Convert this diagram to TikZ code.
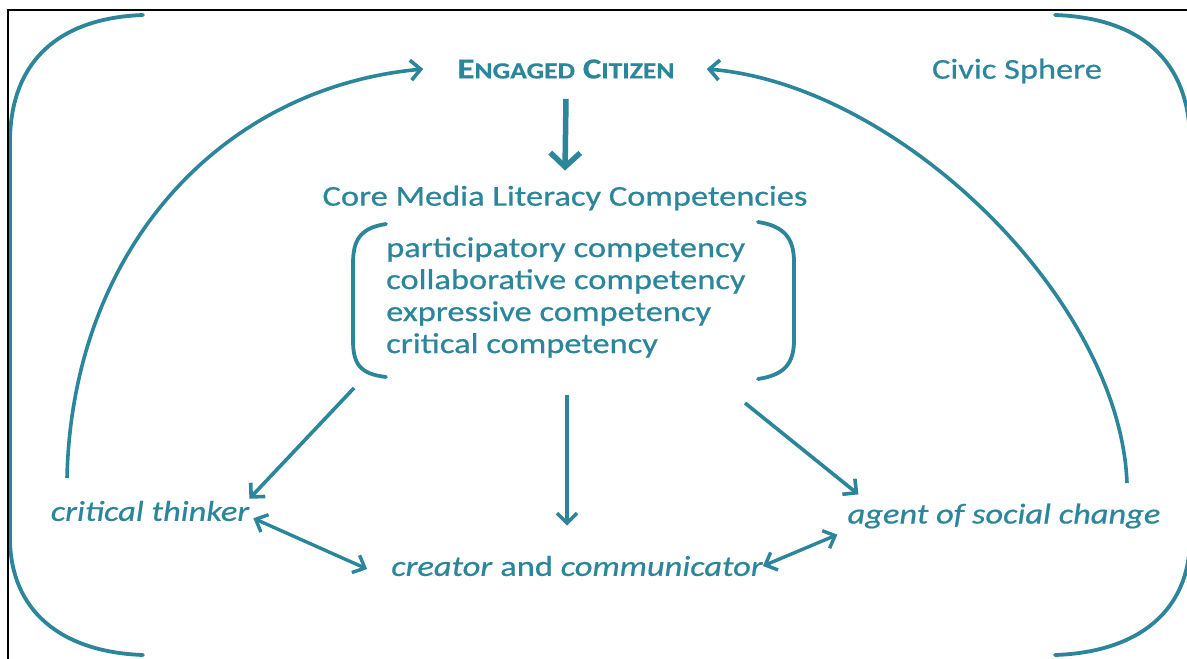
\documentclass[tikz,border=0pt]{standalone}
\usepackage{fontspec}
\setmainfont{Carlito}[FakeStretch=1.2, FakeBold=0.6]
\usetikzlibrary{arrows.meta}
\definecolor{civic}{RGB}{44,134,155}
\tikzset{
  lbl/.style={text=civic, inner sep=2pt},
  arr/.style={civic, line width=3.6pt, -{Straight Barb[length=10pt,width=20pt]}},
  dblarr/.style={civic, line width=3.4pt, {Straight Barb[length=10pt,width=19pt]}-{Straight Barb[length=10pt,width=19pt]}},
  curve/.style={civic, line width=3.8pt, line cap=round},
}
\newcommand{\hdfont}{\fontsize{28.7}{32}\selectfont}
\newcommand{\rolefont}{\fontsize{28.7}{32}\selectfont\itshape}
\newcommand{\smc}[1]{{\fontsize{23}{24}\selectfont #1}}
\begin{document}
\begin{tikzpicture}[x=1pt, y=-1pt]
    \useasboundingbox (0,0) rectangle (1187,659);
    \clip (0,0) rectangle (1187,659);
    \fill[white] (0,0) rectangle (1187,659);

    % outer civic sphere brackets
    \draw[curve] (143,15) .. controls (60,18) and (11,60) .. (10,140) -- (10,540) .. controls (11,610) and (60,652) .. (143,655);
    \draw[curve] (1055,15) .. controls (1140,18) and (1189,60) .. (1190,140) -- (1190,540) .. controls (1189,610) and (1140,652) .. (1055,655);
    \draw[black, line width=2pt] (8,659) -- (8,10) -- (1187,10);

    \node[lbl, font=\bfseries\fontsize{29}{30}\selectfont] (engaged) at (566,69) {E\smc{NGAGED} C\smc{ITIZEN}};
    \node[lbl, font=\hdfont] (civic) at (1017,71) {Civic Sphere};
    \node[lbl, font=\hdfont] (core) at (565,198) {Core Media Literacy Competencies};
    \node[lbl, font=\hdfont, align=left, anchor=north west] (comp) at (384,235)
        {participatory competency\\collaborative competency\\expressive competency\\critical competency};

    \node[lbl, font=\rolefont] (thinker) at (150,511) {critical thinker};
    \node[lbl, font=\rolefont] (creator) at (577,566) {creator \textup{and} communicator};
    \node[lbl, font=\rolefont] (agent) at (1004,516) {agent of social change};

    % brackets round the competencies
    \draw[curve] (386,224) .. controls (360,228) and (353,240) .. (353,264) -- (353,340) .. controls (353,364) and (360,374) .. (386,377);
    \draw[curve] (758,222) .. controls (784,226) and (794,238) .. (794,262) -- (794,340) .. controls (794,364) and (784,375) .. (758,379);

    \coordinate (lfoot) at (67,478);
    \coordinate (rfoot) at (1127,483);
    \coordinate (c1) at (354,388);
    \coordinate (c2) at (567,395);
    \coordinate (c3) at (745,403);

    \draw[arr] (lfoot) .. controls (72,250) and (220,88) .. ([xshift=-32pt]engaged.west);
    \draw[arr] (rfoot) .. controls (1120,300) and (900,85) .. ([xshift=30pt]engaged.east);
    \draw[arr, line width=5.5pt, -{Straight Barb[length=14pt,width=30pt]}] ([yshift=-18pt]engaged.south) -- ([yshift=13pt]core.north);

    \draw[arr] (c1) -- ([xshift=-2pt]thinker.north east);
    \draw[arr] (c2) -- ([yshift=28pt]c2 |- creator.north);
    \draw[arr] (c3) -- ([xshift=13pt,yshift=7pt]agent.north west);

    \draw[dblarr] ([xshift=2pt,yshift=5pt]thinker.south east) -- ([xshift=-22pt,yshift=-3pt]creator.west);
    \draw[dblarr] ([xshift=-2pt]creator.east) -- ([xshift=-8pt,yshift=-4pt]agent.south west);
\end{tikzpicture}
\end{document}
